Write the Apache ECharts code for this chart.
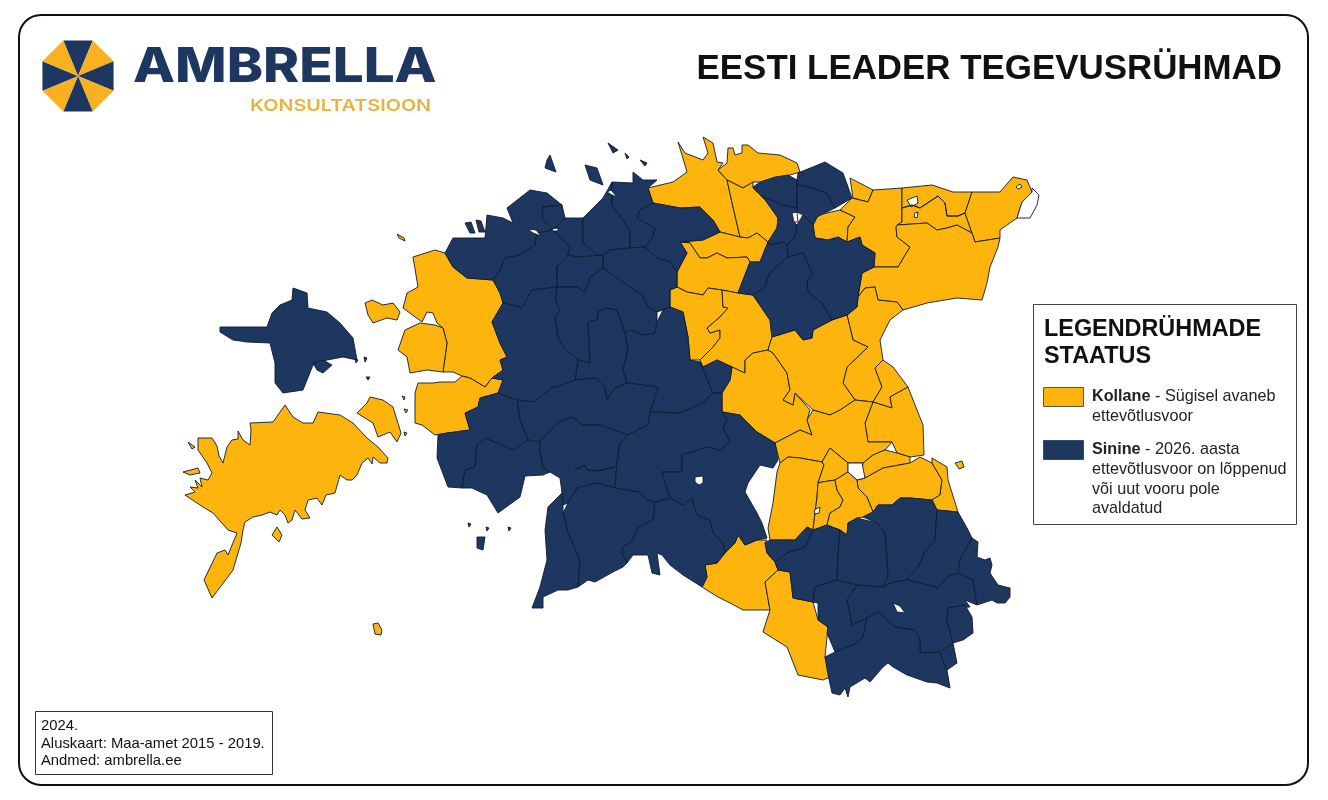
<!DOCTYPE html>
<html><head><meta charset="utf-8">
<style>html,body{margin:0;padding:0;background:#fff}#c{width:1328px;height:800px}</style>
<script src="https://cdn.jsdelivr.net/npm/echarts@6/dist/echarts.min.js"></script>
</head><body><div id="c"></div>
<script>
// ---- Texts ----
const titleText = 'EESTI LEADER TEGEVUSRÜHMAD';
const brandName = 'AMBRELLA';
const brandSub = 'KONSULTATSIOON';
const legendTitle = ['LEGENDRÜHMADE', 'STAATUS'];
const legendYellow = ['Kollane', ' - Sügisel avaneb', 'ettevõtlusvoor'];
const legendBlue = ['Sinine', ' - 2026. aasta', 'ettevõtlusvoor on lõppenud', 'või uut vooru pole', 'avaldatud'];
const sourceLines = ['2024.', 'Aluskaart: Maa-amet 2015 - 2019.', 'Andmed: ambrella.ee'];
const statusColors = { kollane: '#FDB50D', sinine: '#1E3760', vesi: '#FFFFFF' };

const yellowShapes = {
  saaremaa: [198,438,212,438,217,446,219,456,223,463,227,447,232,440,238,439,238,431,243,440,250,445,251,430,250,423,273,422,285,405,293,417,303,423,313,423,318,412,340,415,353,423,367,438,378,447,388,458,387,463,380,463,373,457,372,464,368,458,362,463,357,475,352,480,347,480,340,475,335,493,326,495,322,505,317,498,308,500,305,510,310,518,302,519,295,510,292,520,288,523,285,515,280,510,277,515,270,512,262,515,253,517,245,522,243,530,241,543,233,570,212,598,204,580,217,553,225,550,228,555,237,533,228,530,213,513,203,507,185,495,195,492,190,487,198,488,195,480,202,487,200,478,208,480,212,473,207,463,198,450],
  vilsandi: [183,472,198,468,200,473,190,475],
  vaike2: [188,442,195,447,192,449],
  abruka: [277,527,282,535,279,542,272,535],
  ruhnu: [373,624,378,623,382,630,381,635,375,634],
  vaike: [397,234,404,238,405,241,399,238],
  muhu: [357,413,367,403,370,397,383,400,393,407,397,420,401,433,397,442,390,432,378,437,373,423],
  vormsi: [365,303,372,300,383,305,393,303,400,312,397,320,387,318,373,323,368,315],
  piirissaar: [955,463,962,461,964,467,959,469],
  laid1: [402,396,405,397,404,400],
  laid2: [404,409,408,410,406,413],
  laid3: [404,432,407,433,405,436],
  laane_n: [445,253,453,267,467,278,493,280,500,293,503,303,492,322,500,343,507,357,500,360,503,370,492,378,485,387,470,378,462,376,453,372,443,372,447,343,443,328,437,323,433,313,427,312,422,322,403,308,407,293,418,287,413,257,435,250],
  haapsalu: [405,330,420,323,435,325,443,328,447,343,443,372,427,370,410,373,407,357,398,350],
  lihula: [418,383,433,383,440,382,455,382,462,376,470,378,485,387,492,378,503,380,498,393,480,398,478,407,465,413,470,430,447,433,435,435,422,425,415,423,415,393],
  y1: [648,188,673,182,687,172,682,155,678,142,685,153,703,160,708,153,703,137,713,143,717,162,723,163,718,170,727,180,733,207,740,237,720,232,713,220,700,207,680,208,653,203],
  y2: [718,170,727,163,728,148,733,148,735,155,742,153,742,145,748,145,758,153,780,155,797,163,800,172,783,177,763,182,753,182,743,188,727,180],
  y3: [727,180,743,188,753,182,753,188,767,202,778,218,777,228,768,242,757,233,748,238,740,237,733,207],
  y4: [720,232,740,237,748,238,757,233,768,242,760,262,750,262,747,257,727,258,717,253,707,258,700,258,690,243,680,242,703,240],
  y5: [680,242,690,243,700,258,707,258,717,253,727,258,747,257,750,262,738,293,722,290,708,288,703,295,687,292,677,287,677,272,687,253],
  y6: [670,290,677,287,687,292,703,295,708,288,722,290,723,307,728,308,720,317,707,328,710,333,720,330,720,338,713,347,700,360,690,360,688,337,683,312,670,307],
  y7: [722,290,738,293,753,295,770,320,772,337,768,350,753,353,745,360,745,373,732,367,717,360,703,367,700,360,713,347,720,338,720,330,710,333,707,328,720,317,728,308,723,307],
  y8: [745,373,745,360,753,353,768,350,773,353,787,373,790,390,783,400,793,405,795,393,810,410,807,420,812,435,800,430,775,443,757,432,740,415,722,412,722,393,730,380,732,367],
  ny1: [818,215,840,210,855,217,848,227,847,242,838,237,828,240,815,238,813,225],
  ny2: [850,178,873,190,868,202,853,198],
  ny3: [873,190,902,188,902,222,896,227,897,237,910,247,898,267,874,267,875,253,862,245,860,237,847,242,848,227,855,217,840,210,852,198,868,202],
  ny4: [902,188,932,185,953,192,972,192,965,213,972,233,957,225,947,228,937,230,927,223,897,225,902,222],
  ny5: [972,192,1000,192,1013,177,1027,180,1032,192,1022,202,1017,218,1000,230,1000,238,975,242,972,233,965,213],
  ny6: [897,225,927,223,937,230,947,228,957,225,972,233,975,242,1000,238,998,247,990,267,987,283,982,300,957,298,927,303,903,310,897,302,878,300,875,287,865,288,858,297,862,273,874,267,898,267,910,247,897,237,896,227],
  ny7: [858,297,865,288,875,287,878,300,897,302,903,310,890,320,880,340,883,360,875,368,882,387,873,402,855,400,843,383,847,367,868,347,853,340,847,315,857,307],
  ny8: [772,337,795,330,803,340,812,338,813,330,832,320,847,315,853,340,868,347,847,367,843,383,855,400,840,410,830,415,813,410,795,393,793,405,783,400,790,390,787,373,773,353,768,350],
  ny9: [883,360,893,367,908,387,890,397,892,408,873,402,882,387,875,368],
  ny10: [873,402,892,408,890,397,908,387,917,410,923,425,924,455,910,457,897,453,892,442,868,442,865,423],
  ny11: [813,410,830,415,840,410,855,400,873,402,865,423,868,442,892,442,885,450,873,455,863,463,848,463,830,448,822,462,800,458,788,457,780,463,775,443,800,430,812,435,807,420],
  ny12: [863,463,873,455,885,450,897,453,910,457,910,463,883,468,865,478,862,470],
  ny13: [865,478,883,468,910,463,920,457,932,463,942,480,940,495,932,500,910,498,900,498,892,505,878,505,873,512,867,497,858,488,857,480],
  ny14: [932,458,947,467,948,480,958,512,937,510,932,500,940,495,942,480,932,463],
  ny15: [780,463,788,457,800,458,822,462,824,465,818,483,817,497,813,530,807,527,795,540,770,540,768,528,773,503,777,472],
  ny16: [822,462,830,448,848,463,848,472,835,480,822,482,818,483,824,465],
  ny17: [818,483,822,482,835,480,837,490,843,500,840,507,830,513,827,525,813,530,817,497],
  ny18: [835,480,848,472,857,480,858,488,867,497,873,512,863,517,857,518,848,523,847,535,840,530,827,525,830,513,840,507,843,500,837,490],
  y20: [725,553,735,543,738,535,745,545,757,540,767,540,765,543,767,553,775,562,778,570,765,582,770,610,743,610,730,603,718,597,702,587,707,577,705,565,717,563],
  y21: [765,582,778,570,790,572,793,598,813,602,818,620,828,627,825,657,830,677,823,680,798,675,787,647,763,632,770,610]
};
const blueShapes = {
  hiiumaa: [220,327,233,327,253,327,267,327,272,313,280,305,292,300,293,288,307,293,308,308,327,312,340,323,353,338,357,360,343,357,327,360,313,365,303,390,283,393,275,383,275,363,270,343,247,342,233,340,220,332],
  kassari: [313,363,323,360,332,365,323,373,317,370],
  kihnu: [477,537,485,537,483,550,477,548],
  osmussaar: [550,155,556,172,545,168,547,160],
  pakri: [585,165,597,168,603,185,590,180],
  saar1: [465,223,471,222,475,233,470,233],
  saar2: [476,220,481,221,485,232,479,232],
  naissaar: [608,143,618,150,613,153],
  saar3: [625,153,629,157,627,159],
  saar4: [640,160,647,163,645,166],
  laid4: [364,357,367,358,365,362],
  laid5: [366,377,370,377,368,380],
  laid6: [355,359,358,360,356,363],
  laid7: [468,523,471,524,469,527],
  laid8: [486,527,489,528,487,531],
  laid9: [508,527,511,528,509,531],
  r1: [445,253,453,238,485,238,487,215,503,218,513,223,507,208,530,190,547,193,562,205,543,207,542,218,553,230,537,233,535,245,520,255,505,258,500,270,493,280,467,278,453,267],
  r2: [505,258,520,255,535,245,537,233,553,230,570,247,568,255,557,267,557,287,532,290,522,308,505,303,503,303,500,293,493,280,500,270],
  r3: [543,207,562,205,565,218,553,230,542,218],
  r4: [565,218,583,218,583,243,597,255,603,255,577,257,568,255,570,247,553,230],
  r5: [583,218,603,198,612,182,612,205,630,230,630,248,610,250,603,255,597,255,583,243],
  r6: [612,182,633,183,633,172,643,180,657,180,648,188,653,203,640,210,637,218,655,228,653,237,645,247,630,248,630,230,612,205],
  r7: [640,210,653,203,680,208,700,207,713,220,720,232,703,240,680,242,687,253,677,272,670,262,657,258,645,247,653,237,655,228,637,218],
  r8: [603,255,610,250,630,248,645,247,657,258,670,262,677,272,677,287,670,290,670,307,663,310,657,312,648,307,642,295,627,285,613,275,603,268],
  r9: [557,267,568,255,577,257,603,255,603,268,590,277,585,292,577,287,557,287],
  r10: [557,287,577,287,585,292,590,277,603,268,613,275,627,285,642,295,648,307,657,312,657,322,655,333,643,335,630,330,625,333,617,310,605,308,598,312,597,320,588,322,590,363,578,360,563,347,558,337,555,318,560,310,555,300],
  r11: [588,322,597,320,598,312,605,308,617,310,625,333,628,350,623,370,627,383,615,388,607,400,605,387,595,378,575,380,578,360,590,363],
  r12: [505,303,522,308,532,290,557,287,555,300,560,310,555,318,558,337,563,347,578,360,575,380,557,387,553,387,533,402,517,400,498,393,503,380,492,378,503,370,500,360,507,357,500,343,492,322,503,303],
  r13: [630,330,643,335,655,333,657,322,663,310,670,307,683,312,688,337,690,360,700,362,713,393,703,403,680,413,650,412,658,387,627,383,623,370,628,350,625,333],
  r14: [703,367,717,360,732,367,730,380,722,393,713,393,700,362],
  r15: [575,380,595,378,605,387,607,400,615,388,627,383,658,387,650,412,648,425,628,435,600,425,583,425,572,417,558,422,540,442,528,440,520,420,517,400,533,402,553,387,557,387],
  r16: [498,393,517,400,520,420,528,440,513,450,485,438,477,445,475,467,465,470,462,488,448,487,437,458,438,435,447,433,470,430,465,413,478,407,480,398],
  r17: [528,440,540,442,540,450,543,468,550,472,543,475,525,476,520,497,498,513,487,495,472,488,462,488,465,470,475,467,477,445,485,438,513,450],
  r18: [540,442,558,422,572,417,583,425,600,425,628,435,620,443,617,463,615,488,597,483,577,488,568,503,563,505,562,493,560,478,550,472,543,468,540,450],
  r19: [562,493,563,505,563,513,568,532,580,560,578,587,568,590,558,590,543,597,543,608,532,608,540,587,547,560,545,530,548,507],
  r20: [563,513,568,503,577,488,597,483,615,488,640,492,647,500,655,502,653,520,637,528,633,540,623,547,622,553,627,563,623,567,613,572,595,582,588,580,578,587,580,560,568,532],
  r21: [655,502,670,498,683,505,692,498,697,515,710,520,713,533,723,543,725,553,717,563,705,565,707,577,702,587,683,575,670,565,662,555,657,553,660,575,652,573,648,555,633,555,627,563,622,553,623,547,633,540,637,528,653,520],
  r22: [615,488,617,463,620,443,628,435,648,425,650,412,680,413,703,403,713,393,722,393,722,412,727,420,723,427,730,442,720,450,707,447,682,455,682,472,662,472,670,498,655,502,647,500,640,492],
  r23: [662,472,682,472,682,455,707,447,720,450,730,442,723,427,727,420,722,412,740,415,757,432,775,443,778,460,773,468,760,465,748,483,745,492,757,513,762,523,767,538,757,540,745,545,738,535,735,543,725,553,723,543,713,533,710,520,697,515,692,498,683,505,670,498],
  b1: [753,187,760,182,775,177,788,175,797,180,797,185,797,208,783,205,763,197],
  b2: [798,173,825,162,843,173,852,198,835,208,827,193,808,187,797,185,797,180],
  b3: [797,185,808,187,827,193,835,208,817,217,813,225,803,215,797,212,797,208],
  b4: [763,197,783,205,797,208,797,212,792,220,797,225,795,237,787,245,783,242,770,245,768,242,777,228,778,218],
  b5: [813,225,815,238,828,240,838,237,847,242,860,237,862,245,875,253,874,267,862,273,858,297,857,307,847,315,832,320,822,303,808,292,807,280,813,275,803,253,788,257,787,245,795,237,797,225,803,215],
  b6: [760,262,768,242,770,245,783,242,787,245,788,257,770,272,765,287,753,295,738,293,750,262],
  b7: [753,295,765,287,770,272,788,257,803,253,813,275,807,280,808,292,822,303,832,320,813,330,812,338,803,340,795,330,772,337,770,320],
  s0: [765,543,770,540,795,540,807,527,813,530,805,547,787,553,775,562,767,553],
  s1: [775,562,787,553,805,547,813,530,827,525,840,530,838,557,837,580,815,587,813,602,793,598,790,572,778,570],
  s2: [840,530,847,535,848,523,857,518,877,523,885,533,887,557,888,577,882,587,857,585,837,580,838,557],
  s3: [873,512,878,505,892,505,900,498,910,498,932,500,937,510,935,540,925,552,918,567,907,580,893,582,882,587,888,577,887,557,885,533,877,523,863,517],
  s4: [937,510,958,512,967,528,972,538,960,560,958,573,947,577,938,588,917,582,907,580,918,567,925,552,935,540],
  s5: [972,538,978,542,977,557,985,560,990,558,992,565,990,573,998,585,1010,588,1010,597,1005,603,997,603,992,600,977,605,975,597,973,580,958,573,960,560],
  s6: [857,585,882,587,893,582,907,580,917,582,938,588,947,577,958,573,973,580,977,605,965,600,970,607,948,608,947,620,953,643,940,652,920,653,920,640,915,630,895,627,878,612,867,618,852,625,847,600],
  s7: [815,587,837,580,857,585,847,600,852,625,867,618,863,637,853,645,835,652,827,633,828,627,818,620,818,603,813,602],
  s8: [835,652,853,645,863,637,867,618,878,612,895,627,915,630,920,640,920,653,940,652,942,658,947,670,950,688,937,683,927,682,907,675,893,667,888,663,883,667,870,682,865,678,850,687,848,697,845,688,840,695,832,693,828,675,825,657],
  s9: [948,608,965,605,972,617,973,633,963,640,953,643,947,620],
  s10: [940,652,953,643,957,663,947,670,942,658]
};
const waterShapes = {
  viljandi: [695,477,703,476,703,483,699,485,695,482],
  narva: [1032,188,1039,195,1037,205,1030,218,1017,218,1022,202,1032,192],
  lake1: [907,200,917,196,918,203,911,207],
  lake2: [1016,187,1020,184,1022,187,1018,189],
  lake3: [848,463,862,463,865,478,857,480,848,472],
  lake4: [792,213,797,212,798,222,794,222],
  lake5: [893,603,900,606,905,613,897,612],
  lake6: [528,229,536,230,541,236,533,233],
  lake7: [552,229,558,228,558,231,553,231],
  lake8: [607,192,611,190,617,197,612,195],
  lake9: [814,510,820,507,819,513,815,514],
  lake10: [915,213,918,212,917,218,914,217]
};
// Interior boundaries that end inside one region, drawn out and back
const yellowBoundaryLines = { ny4joon: [902,208,912,205,920,208,929,202,938,196,945,203,947,216,958,216,965,213] };
const blueBoundaryLines = { r18joon: [575,470,585,465,587,470,597,471,615,467] };

// ---- Library setup: register the outlines as a map ----
const pairs = f => { const o = []; for (let i = 0; i < f.length; i += 2) o.push([f[i], f[i + 1]]); return o; };
const features = [], seriesData = [];
const addRing = (id, status, ring) => {
  features.push({ type: 'Feature', properties: { name: id }, geometry: { type: 'Polygon', coordinates: [ring.concat([ring[0]])] } });
  seriesData.push({ name: id, value: 1, itemStyle: { areaColor: statusColors[status] } });
};
[['kollane', yellowShapes], ['sinine', blueShapes], ['vesi', waterShapes]].forEach(([status, shapes]) =>
  Object.keys(shapes).forEach(id => addRing(id, status, pairs(shapes[id]))));
[['kollane', yellowBoundaryLines], ['sinine', blueBoundaryLines]].forEach(([status, lines]) =>
  Object.keys(lines).forEach(id => { const p = pairs(lines[id]); addRing(id, status, p.concat(p.slice(1, -1).reverse())); }));
echarts.registerMap('eesti', { type: 'FeatureCollection', features });

// ---- Logo wedge geometry ----
const logoCenter = [78, 76], logoRadius = 38.5;
const logoWedges = [];
for (let k = 0; k < 8; k++) {
  const a0 = (-112.5 + 45 * k) * Math.PI / 180, a1 = (-67.5 + 45 * k) * Math.PI / 180;
  logoWedges.push({
    type: 'polygon', silent: true,
    shape: { points: [logoCenter, [logoCenter[0] + logoRadius * Math.cos(a0), logoCenter[1] + logoRadius * Math.sin(a0)], [logoCenter[0] + logoRadius * Math.cos(a1), logoCenter[1] + logoRadius * Math.sin(a1)]] },
    style: { fill: k % 2 ? '#F9B122' : '#1E3760' }
  });
}
const sans = '"Liberation Sans", Arial, sans-serif';
const txt = (text, x, y, size, weight, fill, family, extra) => ({ type: 'text', silent: true, style: Object.assign({ text, x, y, fontSize: size, fontWeight: weight, fill, fontFamily: family || sans, verticalAlign: 'middle' }, extra || {}) });
const scaledTxt = (text, x, y, size, weight, fill, family, sx) => ({ type: 'text', silent: true, x, y, scaleX: sx, style: { text, x: 0, y: 0, fontSize: size, fontWeight: weight, fill, fontFamily: family, verticalAlign: 'middle' } });

const legendSize = 16.2;
const graphics = [
  { type: 'rect', silent: true, z: -1, shape: { x: 19, y: 15, width: 1289, height: 770, r: 22 }, style: { fill: '#fff', stroke: '#111', lineWidth: 2 } },
  ...logoWedges,
  scaledTxt(brandName, 133, 68, 48, 800, '#1E3760', 'Inter', 1.14),
  scaledTxt(brandSub, 250, 106, 16.5, 600, '#E8B33F', 'Inter', 1.2),
  txt(titleText, 1282, 69, 34.9, 700, '#111', sans, { align: 'right' }),
  { type: 'rect', silent: true, shape: { x: 1033.5, y: 304.5, width: 263, height: 220 }, style: { fill: '#fff', stroke: '#444', lineWidth: 1 } },
  txt(legendTitle[0], 1044, 330, 23.4, 700, '#111'),
  txt(legendTitle[1], 1044, 357, 23.4, 700, '#111'),
  { type: 'rect', silent: true, shape: { x: 1043.5, y: 387.5, width: 40, height: 19 }, style: { fill: statusColors.kollane, stroke: '#333', lineWidth: 0.8 } },
  { type: 'rect', silent: true, shape: { x: 1043.5, y: 440.5, width: 40, height: 19 }, style: { fill: statusColors.sinine, stroke: '#1E3760', lineWidth: 0.8 } },
  txt(legendYellow[0], 1092, 397, legendSize, 700, '#222'),
  txt(legendYellow[1], 1092 + 58.5, 397, legendSize, 400, '#222'),
  txt(legendYellow[2], 1092, 417, legendSize, 400, '#222'),
  txt(legendBlue[0], 1092, 450, legendSize, 700, '#222'),
  txt(legendBlue[1], 1092 + 48.5, 450, legendSize, 400, '#222'),
  txt(legendBlue[2], 1092, 470, legendSize, 400, '#222'),
  txt(legendBlue[3], 1092, 490, legendSize, 400, '#222'),
  txt(legendBlue[4], 1092, 509, legendSize, 400, '#222'),
  { type: 'rect', silent: true, shape: { x: 35.5, y: 711.5, width: 237, height: 63 }, style: { fill: '#fff', stroke: '#333', lineWidth: 1 } },
  ...sourceLines.map((s, i) => txt(s, 41, 726 + i * 17.5, 14.8, 400, '#111'))
];

const chart = echarts.init(document.getElementById('c'));
chart.setOption({
  animation: false,
  backgroundColor: '#fff',
  graphic: { elements: graphics },
  series: [{
    type: 'map', map: 'eesti', silent: true,
    projection: { project: p => p, unproject: p => p },
    boundingCoords: [[0, 0], [1328, 800]],
    left: 0, top: 0, width: 1328, height: 800, aspectScale: 1,
    roam: false, label: { show: false },
    itemStyle: { borderColor: '#0e1a30', borderWidth: 0.9 },
    emphasis: { disabled: true }, select: { disabled: true },
    data: seriesData
  }]
});
</script></body></html>
